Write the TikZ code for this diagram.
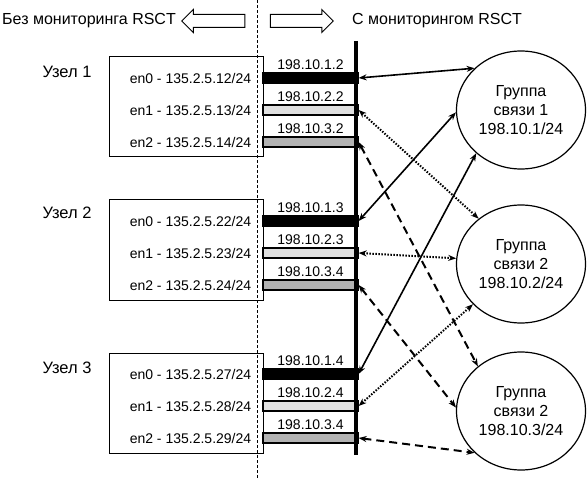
\documentclass[tikz,border=0pt]{standalone}
\usepackage{fontspec}
\setmainfont{Liberation Sans}
\usetikzlibrary{positioning,shapes.geometric,shapes.arrows,arrows.meta}

\begin{document}
\begin{tikzpicture}[
  x=1pt, y=-1pt,
  hdr/.style={font=\fontsize{16}{19}\selectfont, inner sep=0},
  harr/.style={single arrow, draw, line width=1pt, minimum height=63pt, single arrow head extend=5pt, inner xsep=0, inner ysep=6pt},
  box/.style={draw, line width=1pt, minimum width=154pt, minimum height=100pt},
  nd/.style={font=\fontsize{16.5}{19}\selectfont, inner sep=0},
  ifc/.style={draw, line width=1.2pt, minimum width=95pt, minimum height=10pt, inner sep=0},
  en/.style={font=\fontsize{14}{16}\selectfont, inner sep=0},
  ip/.style={font=\fontsize{14}{16}\selectfont, inner sep=0},
  grp/.style={ellipse, draw, line width=1.2pt, minimum width=129pt, minimum height=118pt, inner sep=0, align=center, font=\fontsize{16}{19}\selectfont},
  conn/.style={<->, >={Stealth[length=8pt,width=6pt]}},
  sol/.style={conn, line width=1.6pt},
  dot/.style={conn, line width=2pt, dash pattern=on 1.5pt off 1.5pt},
  dsh/.style={conn, line width=2pt, dash pattern=on 8pt off 5pt}
]
\useasboundingbox (0,0) rectangle (588,478);

% header
\node[harr, shape border rotate=180] (la) at (216.5,21) {};
\node[harr] (ra) at (298.5,21) {};
\node[hdr, left=5pt of la] (lt) {Без мониторинга RSCT};
\node[hdr, right=18pt of ra] (rt) {С мониторингом RSCT};

% nodes
\node[box] (b1) at (186,107) {};
\node[box] (b2) at (186,250) {};
\node[box] (b3) at (186,403.5) {};
\node[nd] (u1) at (67,72) {Узел 1};
\node[nd] (u2) at (67,213) {Узел 2};
\node[nd] (u3) at (67,368) {Узел 3};

% interfaces
\node[ifc, fill=black] (n1e0) at (310.5,78) {};
\node[ifc, fill=gray!25] (n1e1) at (310.5,110) {};
\node[ifc, fill=gray!60] (n1e2) at (310.5,142) {};
\node[ifc, fill=black] (n2e0) at (310.5,221) {};
\node[ifc, fill=gray!25] (n2e1) at (310.5,253) {};
\node[ifc, fill=gray!60] (n2e2) at (310.5,285) {};
\node[ifc, fill=black] (n3e0) at (310.5,374) {};
\node[ifc, fill=gray!25] (n3e1) at (310.5,406) {};
\node[ifc, fill=gray!60] (n3e2) at (310.5,438) {};

\node[en, left=11pt of n1e0] (n1l0) {en0 - 135.2.5.12/24};
\node[en, left=11pt of n1e1] (n1l1) {en1 - 135.2.5.13/24};
\node[en, left=11pt of n1e2] (n1l2) {en2 - 135.2.5.14/24};
\node[en, left=11pt of n2e0] (n2l0) {en0 - 135.2.5.22/24};
\node[en, left=11pt of n2e1] (n2l1) {en1 - 135.2.5.23/24};
\node[en, left=11pt of n2e2] (n2l2) {en2 - 135.2.5.24/24};
\node[en, left=11pt of n3e0] (n3l0) {en0 - 135.2.5.27/24};
\node[en, left=11pt of n3e1] (n3l1) {en1 - 135.2.5.28/24};
\node[en, left=11pt of n3e2] (n3l2) {en2 - 135.2.5.29/24};

\node[ip, above=3pt of n1e0] (n1a0) {198.10.1.2};
\node[ip, above=3pt of n1e1] (n1a1) {198.10.2.2};
\node[ip, above=3pt of n1e2] (n1a2) {198.10.3.2};
\node[ip, above=3pt of n2e0] (n2a0) {198.10.1.3};
\node[ip, above=3pt of n2e1] (n2a1) {198.10.2.3};
\node[ip, above=3pt of n2e2] (n2a2) {198.10.3.4};
\node[ip, above=3pt of n3e0] (n3a0) {198.10.1.4};
\node[ip, above=3pt of n3e1] (n3a1) {198.10.2.4};
\node[ip, above=3pt of n3e2] (n3a2) {198.10.3.4};

% groups
\node[grp] (g1) at (521,110) {Группа\\связи 1\\198.10.1/24};
\node[grp] (g2) at (521,264) {Группа\\связи 2\\198.10.2/24};
\node[grp] (g3) at (521,411) {Группа\\связи 2\\198.10.3/24};

% bus
\coordinate (bt) at (356,41);
\coordinate (bb) at (356,455);
\draw[line width=3.5pt] (bt) -- (bb);

% links
\draw[sol] (n1e0.east) -- (g1.138);
\draw[dot] (n1e1.east) -- (g2.133);
\draw[dsh] (n1e2.east) -- (g3.134);
\draw[sol] (n2e0.east) -- (g1.182);
\draw[dot] (n2e1.east) -- (g2.175);
\draw[dsh] (n2e2.east) -- (g3.177);
\draw[sol] (n3e0.east) -- (g1.224);
\draw[dot] (n3e1.east) -- (g2.220);
\draw[dsh] (n3e2.east) -- (g3.222);

% separator
\coordinate (st) at (257,0);
\coordinate (sb) at (257,478);
\draw[line width=0.6pt, dash pattern=on 3pt off 2pt] (st) -- (sb);
\end{tikzpicture}
\end{document}
